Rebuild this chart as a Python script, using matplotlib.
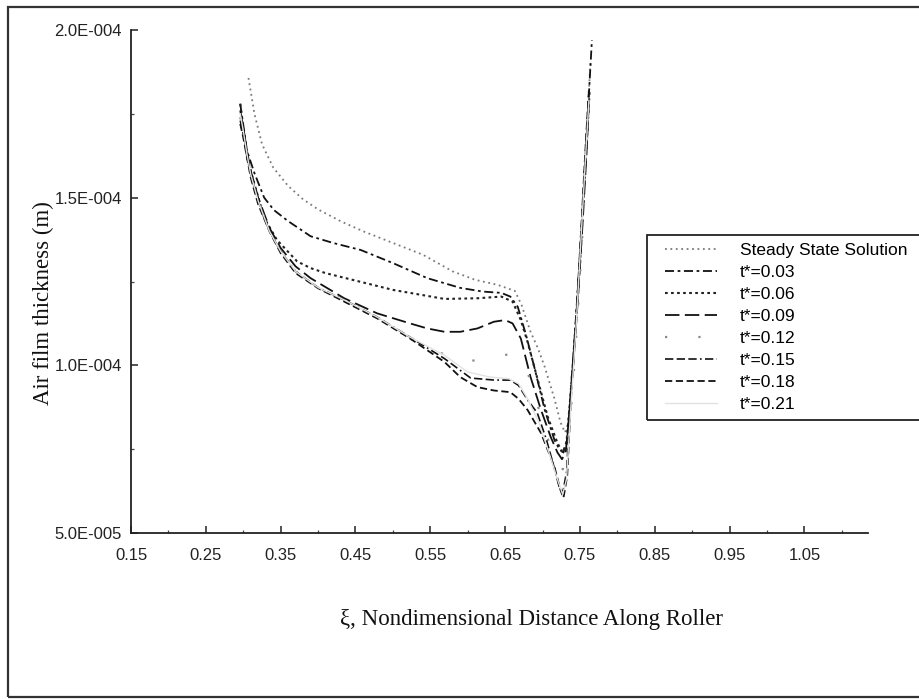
import matplotlib
matplotlib.use("Agg")
import matplotlib.pyplot as plt
from matplotlib.ticker import FuncFormatter, MultipleLocator, FixedLocator
from matplotlib.patches import Rectangle

# film thickness in units of 1e-4 m
x_steady = [0.307, 0.315, 0.325, 0.34, 0.36, 0.38, 0.40, 0.43, 0.46, 0.50, 0.54, 0.58, 0.61, 0.64,
            0.663, 0.672, 0.684, 0.694, 0.703, 0.716, 0.724, 0.730, 0.735, 0.741, 0.747, 0.752, 0.757,
            0.761, 0.764]
y_steady = [1.857, 1.75, 1.66, 1.59, 1.535, 1.495, 1.465, 1.43, 1.40, 1.365, 1.33, 1.28, 1.255, 1.24,
            1.222, 1.18, 1.10, 1.05, 0.995, 0.90, 0.83, 0.80, 0.83, 1.00, 1.20, 1.40, 1.62, 1.78, 1.90]

x_t03 = [0.296, 0.305, 0.315, 0.328, 0.341, 0.36, 0.372, 0.39, 0.42, 0.457, 0.50, 0.546, 0.59, 0.62,
         0.645, 0.657, 0.667, 0.678, 0.689, 0.703, 0.716, 0.723, 0.728, 0.733, 0.738, 0.744, 0.75,
         0.755, 0.76, 0.763, 0.766]
y_t03 = [1.78, 1.64, 1.573, 1.50, 1.463, 1.43, 1.412, 1.385, 1.365, 1.344, 1.305, 1.26, 1.231, 1.22,
         1.216, 1.205, 1.174, 1.09, 0.995, 0.867, 0.777, 0.748, 0.74, 0.78, 0.93, 1.12, 1.33,
         1.52, 1.72, 1.85, 1.97]

x_t06 = [0.296, 0.305, 0.315, 0.328, 0.345, 0.372, 0.39, 0.41, 0.455, 0.50, 0.523, 0.569, 0.613,
         0.645, 0.66, 0.671, 0.68, 0.689, 0.707, 0.72, 0.727, 0.732, 0.737, 0.743, 0.75, 0.756,
         0.76, 0.763]
y_t06 = [1.78, 1.62, 1.54, 1.44, 1.374, 1.31, 1.29, 1.275, 1.25, 1.225, 1.216, 1.198, 1.20,
         1.205, 1.19, 1.135, 1.07, 0.995, 0.846, 0.768, 0.74, 0.77, 0.90, 1.08, 1.30, 1.55,
         1.70, 1.82]

x_t09 = [0.296, 0.300, 0.305, 0.31, 0.32, 0.335, 0.35, 0.37, 0.39, 0.435, 0.479, 0.523, 0.546,
         0.569, 0.59, 0.613, 0.635, 0.65, 0.66, 0.671, 0.684, 0.698, 0.711, 0.72, 0.726, 0.731,
         0.736, 0.742, 0.748, 0.754, 0.759, 0.762]
y_t09 = [1.76, 1.71, 1.64, 1.58, 1.50, 1.41, 1.35, 1.295, 1.26, 1.20, 1.155, 1.125, 1.11,
         1.10, 1.10, 1.11, 1.13, 1.135, 1.125, 1.08, 0.965, 0.867, 0.786, 0.74, 0.72, 0.74,
         0.86, 1.03, 1.22, 1.44, 1.64, 1.78]

x_t12 = [0.296, 0.300, 0.305, 0.31, 0.32, 0.335, 0.35, 0.37, 0.40, 0.435, 0.479, 0.523, 0.533,
         0.564, 0.593, 0.627, 0.657, 0.668, 0.68, 0.695, 0.71, 0.72, 0.727, 0.733, 0.74, 0.747,
         0.754, 0.76]
y_t12 = [1.74, 1.70, 1.63, 1.57, 1.49, 1.40, 1.34, 1.28, 1.23, 1.195, 1.144, 1.08, 1.067,
         1.037, 1.01, 1.02, 1.034, 1.01, 0.98, 0.87, 0.76, 0.71, 0.69, 0.74, 0.92, 1.15,
         1.42, 1.68]

x_t15 = [0.296, 0.300, 0.305, 0.31, 0.32, 0.335, 0.35, 0.37, 0.40, 0.435, 0.479, 0.523, 0.569,
         0.604, 0.636, 0.657, 0.668, 0.68, 0.693, 0.705, 0.715, 0.722, 0.727, 0.732, 0.738,
         0.745, 0.752, 0.758, 0.762]
y_t15 = [1.73, 1.69, 1.63, 1.57, 1.49, 1.40, 1.34, 1.28, 1.232, 1.195, 1.144, 1.084, 1.02,
         0.962, 0.956, 0.956, 0.94, 0.897, 0.858, 0.78, 0.70, 0.64, 0.62, 0.68, 0.90,
         1.13, 1.40, 1.65, 1.80]

x_t18 = [0.296, 0.300, 0.305, 0.31, 0.32, 0.335, 0.35, 0.37, 0.40, 0.435, 0.479, 0.523, 0.569,
         0.59, 0.613, 0.635, 0.657, 0.668, 0.68, 0.698, 0.716, 0.724, 0.728, 0.733, 0.738,
         0.745, 0.752, 0.758, 0.762]
y_t18 = [1.72, 1.68, 1.62, 1.56, 1.48, 1.40, 1.335, 1.275, 1.23, 1.19, 1.14, 1.08, 1.01,
         0.965, 0.935, 0.925, 0.92, 0.90, 0.867, 0.798, 0.697, 0.628, 0.605, 0.67, 0.90,
         1.14, 1.42, 1.67, 1.82]

x_t21 = [0.296, 0.300, 0.305, 0.31, 0.32, 0.335, 0.35, 0.37, 0.40, 0.435, 0.479, 0.523, 0.569,
         0.60, 0.63, 0.655, 0.668, 0.68, 0.695, 0.71, 0.72, 0.727, 0.732, 0.738, 0.745, 0.752,
         0.758, 0.762]
y_t21 = [1.75, 1.70, 1.63, 1.57, 1.49, 1.40, 1.34, 1.28, 1.232, 1.195, 1.144, 1.084, 1.03,
         0.98, 0.965, 0.96, 0.945, 0.90, 0.83, 0.73, 0.66, 0.615, 0.66, 0.88, 1.12, 1.40,
         1.64, 1.79]

labels = ["Steady State Solution", "t*=0.03", "t*=0.06", "t*=0.09", "t*=0.12",
          "t*=0.15", "t*=0.18", "t*=0.21"]
xticks = [0.15, 0.25, 0.35, 0.45, 0.55, 0.65, 0.75, 0.85, 0.95, 1.05]
yticks = [5.0e-5, 1.0e-4, 1.5e-4, 2.0e-4]

series = [(x_steady, y_steady), (x_t03, y_t03), (x_t06, y_t06), (x_t09, y_t09),
          (x_t12, y_t12), (x_t15, y_t15), (x_t18, y_t18), (x_t21, y_t21)]
styles = [
    dict(color="#7a7a7a", lw=1.3, ls=(0, (1, 2))),
    dict(color="#111111", lw=1.3, ls=(0, (5, 2, 1.5, 2))),
    dict(color="#222222", lw=1.5, ls=(0, (1.3, 1.6))),
    dict(color="#111111", lw=1.3, ls=(0, (8, 3))),
    dict(color="#8a8a8a", lw=1.6, ls=(0, (1, 14))),
    dict(color="#111111", lw=1.2, ls=(0, (5, 2, 5, 2, 5, 2, 1, 2))),
    dict(color="#111111", lw=1.3, ls=(0, (4, 2))),
    dict(color="#e2e2e2", lw=1.0, ls="-"),
]

W, H = 920, 699
fig = plt.figure(figsize=(9.2, 6.99), dpi=100)
ax = fig.add_axes([131 / W, 1 - 533 / H, (868 - 131) / W, (533 - 30) / H])

for (xs, ys), lab, st in zip(series, labels, styles):
    ax.plot(xs, [v * 1e-4 for v in ys], label=lab, **st)

ax.set_xlim(0.15, 1.135)
ax.set_ylim(5.0e-5, 2.0e-4)
ax.spines["top"].set_visible(False)
ax.spines["right"].set_visible(False)
for s in ("left", "bottom"):
    ax.spines[s].set_linewidth(1.3)
    ax.spines[s].set_color("#222222")

ax.xaxis.set_major_locator(FixedLocator(xticks))
ax.xaxis.set_major_formatter(FuncFormatter(lambda v, p: f"{v:.2f}"))
ax.xaxis.set_minor_locator(MultipleLocator(0.05))
ax.yaxis.set_major_locator(FixedLocator(yticks))
ax.yaxis.set_minor_locator(MultipleLocator(2.5e-5))


def efmt(v, p):
    m, e = f"{v:.1E}".split("E")
    return f"{m}E{int(e):+04d}"


ax.yaxis.set_major_formatter(FuncFormatter(efmt))
ax.tick_params(which="major", direction="in", length=5, width=1.1, color="#222222",
               labelsize=12, labelfontfamily="Liberation Sans", labelcolor="#222222")
ax.tick_params(which="minor", direction="in", length=2.5, width=0.9, color="#444444")
ax.tick_params(axis="x", which="major", pad=11)
ax.tick_params(axis="y", which="major", pad=6.5)

fig.text(43 / W, 1 - 303 / H, "Air film thickness (m)", rotation=90, ha="center", va="center",
         family="Liberation Serif", fontsize=16.5, color="#111111")
fig.text(532 / W, 1 - 620 / H, "ξ, Nondimensional Distance Along Roller", ha="center", va="center",
         family="Liberation Serif", fontsize=16.5, color="#111111")

# legend: entries placed without frame, box drawn separately (it runs off the right edge)
leg = ax.legend(loc="upper left", bbox_to_anchor=(665 / W, 1 - 243 / H), bbox_transform=fig.transFigure,
                borderaxespad=0, borderpad=0, frameon=False, prop=dict(family="Liberation Sans", size=12.5),
                handlelength=3.0, handletextpad=1.3, labelspacing=0.39)
fig.add_artist(Rectangle((647 / W, 1 - 420 / H), 0.5, (420 - 235) / H, transform=fig.transFigure,
                         fill=False, edgecolor="#222222", lw=1.3, clip_on=False))

fig.add_artist(Rectangle((8 / W, 2 / H), 1.2, 690 / H, transform=fig.transFigure, fill=False,
                         edgecolor="#333333", lw=1.6, clip_on=False))

fig.savefig("out.png", dpi=100)
